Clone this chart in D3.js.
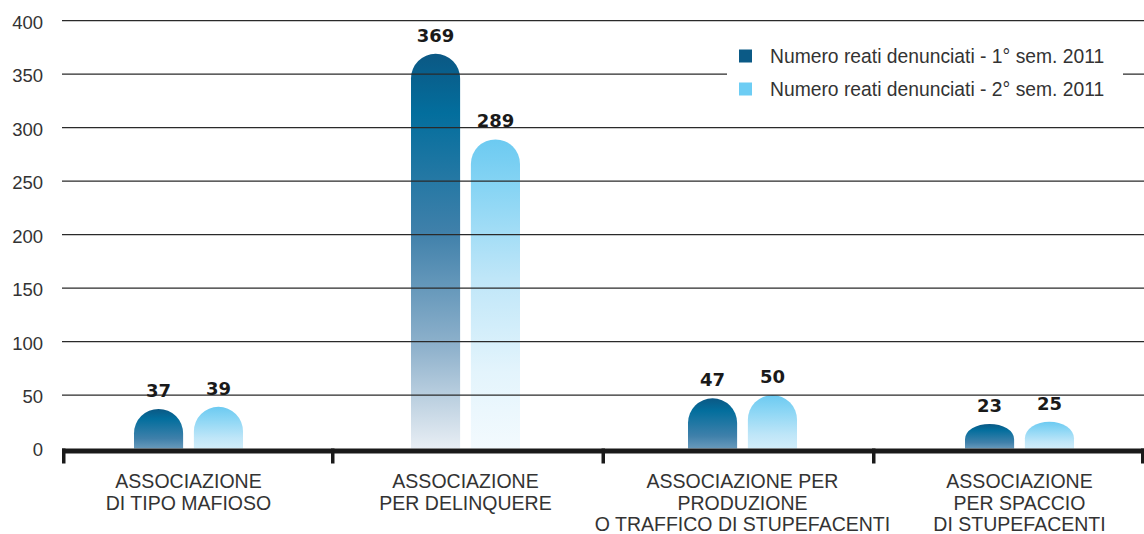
<!DOCTYPE html>
<html>
<head>
<meta charset="utf-8">
<script src="https://cdn.jsdelivr.net/npm/d3@7"></script>
<style>
  body { margin: 0; background: #fff; }
  svg { display: block; }
  .tick-label { font-family: "Liberation Sans", Arial, sans-serif; font-size: 18.5px; fill: #333; }
  .cat-label { font-family: "Liberation Sans", Arial, sans-serif; font-size: 19.5px; fill: #333; }
  .value-label { font-family: "DejaVu Sans", sans-serif; font-weight: bold; font-size: 18px; fill: #1a1a1a; }
  .legend-label { font-family: "Liberation Sans", Arial, sans-serif; font-size: 19.3px; fill: #333; }
</style>
</head>
<body>
<svg id="chart" width="1144" height="534"></svg>
<script>
"use strict";

// data
const categories = [
    ['ASSOCIAZIONE', 'DI TIPO MAFIOSO'],
    ['ASSOCIAZIONE', 'PER DELINQUERE'],
    ['ASSOCIAZIONE PER', 'PRODUZIONE', 'O TRAFFICO DI STUPEFACENTI'],
    ['ASSOCIAZIONE', 'PER SPACCIO', 'DI STUPEFACENTI']
];
const seriesNames = ['Numero reati denunciati - 1° sem. 2011', 'Numero reati denunciati - 2° sem. 2011'];
const firstSemester = [37, 369, 47, 23];
const secondSemester = [39, 289, 50, 25];
const yTicks = [0, 50, 100, 150, 200, 250, 300, 350, 400];

const rampDark = ['#0b5884', '#036e9d', '#3f80aa', '#91b3cd', '#e8eef4'];
const rampLight = ['#6ccaf1', '#86d4f4', '#bfe6f8', '#e3f4fc', '#f3fafe'];
const rampStops = [0, 0.15, 0.45, 0.75, 1];

const svg = d3.select('#chart');
const defs = svg.append('defs');

const y = d3.scaleLinear().domain([0, 400]).range([448.5, 20.7]);
const xAxis = d3.scaleBand().domain(d3.range(categories.length)).range([62, 1144]);
const xBars = d3.scaleBand().domain(d3.range(categories.length)).range([50, 1158]);
const xInner = d3.scaleBand().domain([0, 1]).range([-54.5, 54.5]).paddingInner(0.18);
const color = d3.scaleOrdinal().domain([0, 1]).range(['#0b5a86', '#6dcdf4']);

const rows = categories.map((c, i) => ({ i, values: [firstSemester[i], secondSemester[i]] }));
const bars = rows.flatMap(r => r.values.map((v, s) => ({ cat: r.i, s, v })));

// y tick labels
svg.append('g')
    .selectAll('text')
    .data(yTicks)
    .enter()
    .append('text')
    .attr('class', 'tick-label')
    .attr('x', 43)
    .attr('y', d => y(d) + 1.5)
    .attr('dy', '0.35em')
    .attr('text-anchor', 'end')
    .text(d => d);

// bars with rounded tops
const roundedTop = (x, top, w, bottom) => {
    const h = bottom - top;
    const rx = w / 2;
    const ry = Math.min(w / 2, h * 0.62);
    return `M${x},${bottom}V${top + ry}A${rx},${ry} 0 0 1 ${x + w},${top + ry}V${bottom}Z`;
};

bars.forEach((d, k) => {
    const top = y(d.v);
    const h = y(0) - top;
    const span = h >= 100 ? h : h / 0.6;
    const grad = defs.append('linearGradient')
        .attr('id', `grad${k}`)
        .attr('gradientUnits', 'userSpaceOnUse')
        .attr('x1', 0).attr('x2', 0)
        .attr('y1', top).attr('y2', top + span);
    const ramp = d.s === 0 ? rampDark : rampLight;
    rampStops.forEach((o, j) => grad.append('stop').attr('offset', o).attr('stop-color', ramp[j]));
    d.grad = `url(#grad${k})`;
});

svg.append('g')
    .selectAll('path')
    .data(bars)
    .enter()
    .append('path')
    .attr('d', d => {
        const x = xBars(d.cat) + xBars.bandwidth() / 2 + xInner(d.s);
        return roundedTop(x, y(d.v), xInner.bandwidth(), y(0));
    })
    .attr('fill', d => d.grad);

// gridlines drawn over the bars
svg.append('g')
    .selectAll('line')
    .data(yTicks.filter(t => t > 0))
    .enter()
    .append('line')
    .attr('x1', 62)
    .attr('x2', 1144)
    .attr('y1', d => y(d))
    .attr('y2', d => y(d))
    .attr('stroke', '#2a2a2a')
    .attr('stroke-width', 1.3);

// baseline axis with separators
svg.append('rect')
    .attr('x', 62)
    .attr('y', y(0))
    .attr('width', 1144 - 62)
    .attr('height', 5)
    .attr('fill', '#1a1a1a');

const bounds = xAxis.domain().map(i => xAxis(i)).concat([xAxis.range()[1]]);
svg.append('g')
    .selectAll('rect')
    .data(bounds)
    .enter()
    .append('rect')
    .attr('x', (d, i) => i === bounds.length - 1 ? d - 3 : (i === 0 ? d : d - 1.5))
    .attr('y', y(0))
    .attr('width', 3.5)
    .attr('height', 15)
    .attr('fill', '#1a1a1a');

// category labels
const catG = svg.append('g')
    .selectAll('text')
    .data(rows)
    .enter()
    .append('text')
    .attr('class', 'cat-label')
    .attr('text-anchor', 'middle')
    .attr('x', d => xBars(d.i) + xBars.bandwidth() / 2)
    .attr('y', 488);
catG.selectAll('tspan')
    .data(d => categories[d.i].map(t => ({ t, x: xBars(d.i) + xBars.bandwidth() / 2 })))
    .enter()
    .append('tspan')
    .attr('x', d => d.x)
    .attr('dy', (d, j) => j === 0 ? 0 : 21.5)
    .text(d => d.t);

// legend
const legend = svg.append('g');
legend.append('rect')
    .attr('x', 727)
    .attr('y', 36)
    .attr('width', 396)
    .attr('height', 72)
    .attr('fill', '#fff');
const legendRows = legend.selectAll('g.item')
    .data(seriesNames)
    .enter()
    .append('g')
    .attr('class', 'item')
    .attr('transform', (d, i) => `translate(739, ${56 + i * 33})`);
legendRows.append('rect')
    .attr('x', 0)
    .attr('y', -6.5)
    .attr('width', 13)
    .attr('height', 13)
    .attr('fill', (d, i) => color(i));
legendRows.append('text')
    .attr('class', 'legend-label')
    .attr('x', 31)
    .attr('dy', '0.35em')
    .text(d => d);

// value labels
svg.append('g')
    .selectAll('text')
    .data(bars)
    .enter()
    .append('text')
    .attr('class', 'value-label')
    .attr('text-anchor', 'middle')
    .attr('x', d => xBars(d.cat) + xBars.bandwidth() / 2 + xInner(d.s) + xInner.bandwidth() / 2)
    .attr('y', d => y(d.v) - 12)
    .text(d => d.v);
</script>
</body>
</html>
